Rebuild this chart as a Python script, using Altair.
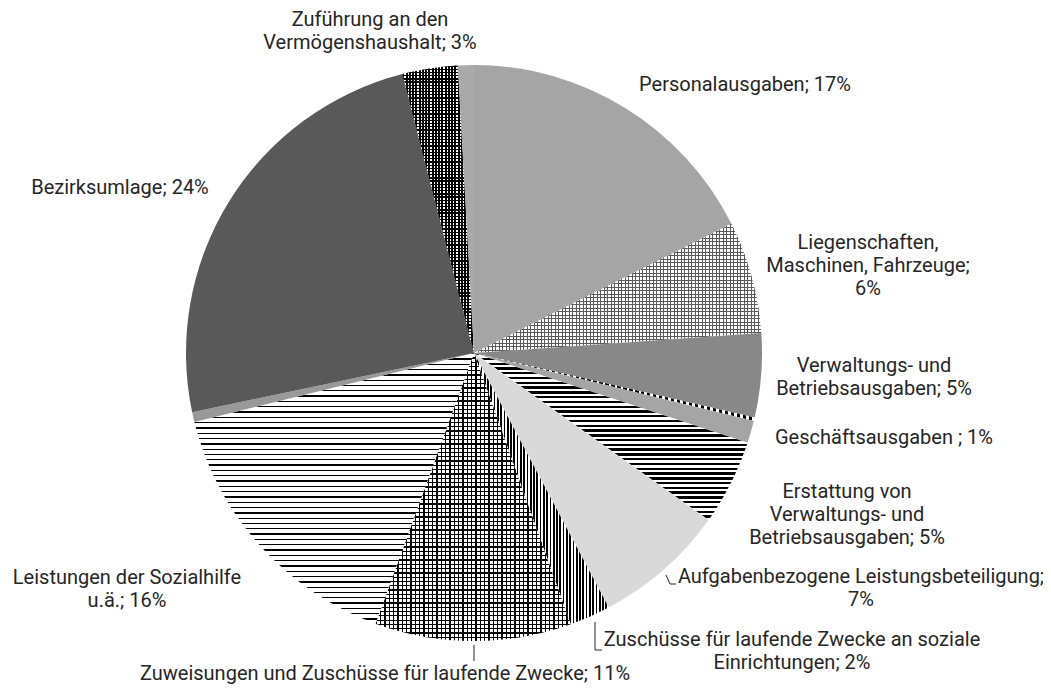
import math
import altair as alt
import pandas as pd

# ---------------- data ----------------
categories = [
    "Personalausgaben",
    "Liegenschaften, Maschinen, Fahrzeuge",
    "Verwaltungs- und Betriebsausgaben",
    "Sonstige A",
    "Geschäftsausgaben",
    "Erstattung von Verwaltungs- und Betriebsausgaben",
    "Aufgabenbezogene Leistungsbeteiligung",
    "Zuschüsse für laufende Zwecke an soziale Einrichtungen",
    "Zuweisungen und Zuschüsse für laufende Zwecke",
    "Leistungen der Sozialhilfe u.ä.",
    "Sonstige B",
    "Bezirksumlage",
    "Zuführung an den Vermögenshaushalt",
    "Sonstige C",
]
values = [17.6, 6.3, 4.7, 0.2, 1.25, 4.8, 7.4, 2.3, 11.0, 15.6, 0.55, 24.3, 3.1, 0.9]

label_texts = [
    ["Zuführung an den", "Vermögenshaushalt; 3%"],
    ["Personalausgaben; 17%"],
    ["Liegenschaften,", "Maschinen, Fahrzeuge;", "6%"],
    ["Verwaltungs- und", "Betriebsausgaben; 5%"],
    ["Geschäftsausgaben ; 1%"],
    ["Erstattung von", "Verwaltungs- und", "Betriebsausgaben; 5%"],
    ["Aufgabenbezogene Leistungsbeteiligung;", "7%"],
    ["Zuschüsse für laufende Zwecke an soziale", "Einrichtungen; 2%"],
    ["Zuweisungen und Zuschüsse für laufende Zwecke; 11%"],
    ["Leistungen der Sozialhilfe", "u.ä.; 16%"],
    ["Bezirksumlage; 24%"],
]

# ---------------- layout / style ----------------
R = 288
CX, CY = 466, 345
LINE_H = 23
label_x = [362, 737, 860, 866, 876, 839, 853, 784, 377, 119, 112]
label_y = [12, 77, 235, 358, 430, 484, 569, 632, 666, 570, 180]

leader_segments = [
    (658, 567, 662, 576), (662, 576, 668, 576),
    (587, 614, 587, 642), (587, 642, 594, 642),
    (466, 637, 466, 653),
]

TEXT_COLOR = "#262626"
TRANSPARENT = "rgba(255,255,255,0)"

total = sum(values)
df = pd.DataFrame({"category": categories, "value": values, "order": list(range(len(values)))})


def slice_bbox(i):
    start = sum(values[:i]) / total * 360.0
    end = start + values[i] / total * 360.0
    angs = [start, end] + [a for a in (0, 90, 180, 270, 360) if start < a < end]
    xs = [0.0] + [R * math.sin(math.radians(a)) for a in angs]
    ys = [0.0] + [-R * math.cos(math.radians(a)) for a in angs]
    return max(xs) - min(xs), max(ys) - min(ys)


def stripes(i, direction, period, dark_frac, dark, light):
    w, h = slice_bbox(i)
    size = h if direction == "h" else w
    n = max(1, int(round(size / period)))
    stops = []
    for k in range(n):
        a = k / n
        b = (k + dark_frac) / n
        c = (k + 1) / n
        stops += [
            alt.GradientStop(color=dark, offset=a),
            alt.GradientStop(color=dark, offset=b),
            alt.GradientStop(color=light, offset=b),
            alt.GradientStop(color=light, offset=c),
        ]
    if direction == "h":
        return alt.LinearGradient(gradient="linear", stops=stops, x1=0, x2=0, y1=0, y2=1)
    return alt.LinearGradient(gradient="linear", stops=stops, x1=0, x2=1, y1=0, y2=0)


# fills: list of layers per slice
fills = {
    0: ["#a5a5a5"],
    1: [stripes(1, "v", 3.5, 0.3, "#5a5a5a", "#ffffff"),
        stripes(1, "h", 3.5, 0.3, "#5a5a5a", TRANSPARENT)],
    2: ["#888888"],
    3: [stripes(3, "v", 6.0, 0.55, "#000000", "#ffffff")],
    4: ["#a5a5a5"],
    5: [stripes(5, "h", 4.8, 0.5, "#000000", "#ffffff")],
    6: ["#d9d9d9"],
    7: [stripes(7, "v", 3.3, 0.5, "#000000", "#ffffff")],
    8: [stripes(8, "v", 4.3, 0.3, "#000000", "#ffffff"),
        stripes(8, "h", 4.3, 0.3, "#000000", TRANSPARENT)],
    9: [stripes(9, "h", 5.3, 0.25, "#000000", "#ffffff")],
    10: ["#999999"],
    11: ["#595959"],
    12: [stripes(12, "v", 3.2, 0.6, "#000000", "#ffffff"),
         stripes(12, "h", 3.2, 0.4, "#000000", TRANSPARENT)],
    13: ["#a9a9a9"],
}

base = (
    alt.Chart(df)
    .transform_window(cum="sum(value)", sort=[alt.SortField("order", order="ascending")], frame=[None, 0])
    .transform_calculate(start="datum.cum - datum.value")
)

theta_scale = alt.Scale(domain=[0, total], range=[0, 2 * math.pi])

layers = []
for i in range(len(values)):
    for f in fills[i]:
        layers.append(
            base.transform_filter(alt.datum.order == i)
            .mark_arc(radius=R, fill=f, strokeWidth=0)
            .encode(
                theta=alt.Theta("start:Q", scale=theta_scale, title=None),
                theta2=alt.Theta2("cum:Q"),
                x=alt.value(CX),
                y=alt.value(CY),
            )
        )

# labels
rows = []
for lines, lx, ly in zip(label_texts, label_x, label_y):
    for j, t in enumerate(lines):
        rows.append({"text": t, "x": lx, "y": ly + j * LINE_H})
labels_df = pd.DataFrame(rows)

text_layer = alt.Chart(labels_df).mark_text(
    font="Roboto", fontSize=20, color=TEXT_COLOR, align="center", baseline="middle"
).encode(
    x=alt.X("x:Q", scale=None),
    y=alt.Y("y:Q", scale=None),
    text="text:N",
)

leader_df = pd.DataFrame(leader_segments, columns=["x", "y", "x2", "y2"])
leader_layer = alt.Chart(leader_df).mark_rule(color=TEXT_COLOR, strokeWidth=1).encode(
    x=alt.X("x:Q", scale=None),
    y=alt.Y("y:Q", scale=None),
    x2="x2:Q",
    y2="y2:Q",
)

chart = (
    alt.layer(*layers, leader_layer, text_layer)
    .properties(width=1035, height=677, padding=0, autosize=alt.AutoSizeParams(type="none"), background="white")
    .configure_view(stroke=None)
)

chart.save("out.html", embed_options={"renderer": "svg", "actions": False})
